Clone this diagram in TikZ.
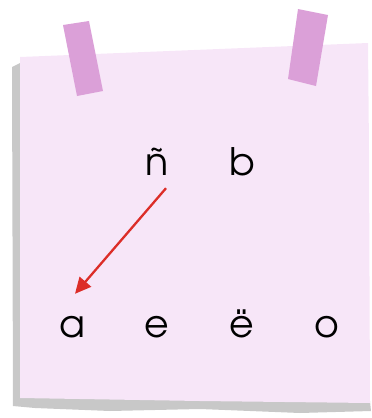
\documentclass[tikz,border=0pt]{standalone}
\usepackage{fontspec}
\setmainfont{texgyreadventor-regular.otf}
\usepackage{xcolor}
\usetikzlibrary{positioning,arrows.meta}

\definecolor{paperpink}{RGB}{247,230,248}
\definecolor{tapepink}{RGB}{219,160,216}
\definecolor{shadowgray}{RGB}{200,200,200}
\definecolor{arrowred}{RGB}{220,45,40}

\begin{document}
\begin{tikzpicture}[
    x=1bp, y=-1bp,
    letter/.style={font=\fontsize{38}{38}\selectfont, text height=28bp, text depth=0pt,
                   inner sep=0pt},
    arr/.style={-{Triangle[length=16bp,width=15bp]}, line width=2.3bp, draw=arrowred, fill=arrowred},
    tape/.style={fill=tapepink, draw=none},
    node distance=85bp, on grid
]
\useasboundingbox (0,0) rectangle (372,418);

% note paper and its shadow
\fill[shadowgray] (12,67) -- (20,63) -- (20,397) -- (370,401) -- (371,411) -- (300,413)
    -- (200,409) -- (110,411) -- (35,408) -- (13,406) -- cycle;
\fill[paperpink] (20,57) -- (368,43) -- (369,150) -- (370,403) -- (200,401) -- (20,398) -- cycle;
\fill[tape] (63,25) -- (89,21) -- (103,91) -- (77,96) -- cycle;
\fill[tape] (298,9) -- (328,15) -- (316,86) -- (288,79) -- cycle;

\node[letter, anchor=base] (a) at (72,337) {a};
\node[letter, right=of a] (e) {e};
\node[letter, right=of e] (euml) {ë};
\node[letter, right=of euml] (o) {o};
\node[letter, above=162bp of e] (ntilde) {ñ};
\node[letter, above=162bp of euml] (b) {b};

\draw[arr] ([xshift=9bp, yshift=-13bp]ntilde.south) -- ([xshift=3bp, yshift=15bp]a.north);
\end{tikzpicture}
\end{document}
